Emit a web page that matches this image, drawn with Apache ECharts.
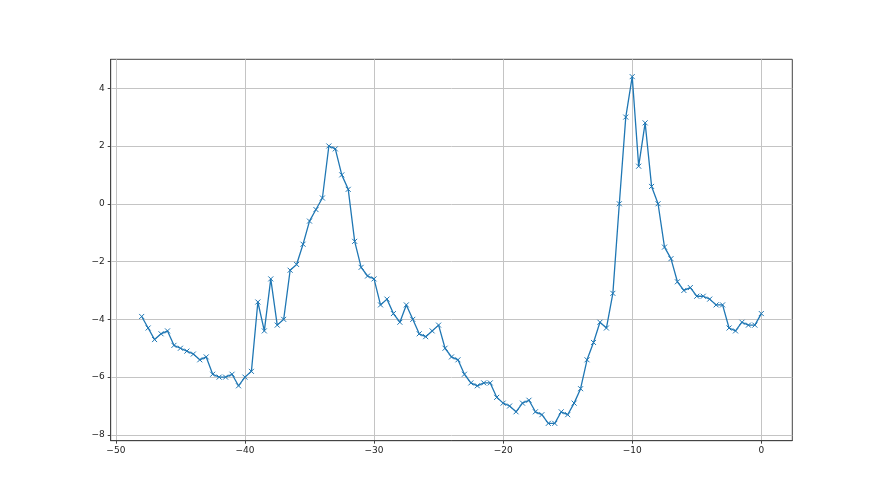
<!DOCTYPE html>
<html>
<head>
<meta charset="utf-8">
<script src="https://cdn.jsdelivr.net/npm/echarts@6/dist/echarts.min.js"></script>
<style>
html,body{margin:0;padding:0;background:#fff;}
#chart{width:880px;height:495px;}
</style>
</head>
<body>
<div id="chart"></div>
<script>
const xStart = -48;
const xStep = 0.5;
const yValues = [
  -3.9, -4.3, -4.7, -4.5, -4.4, -4.9, -5.0, -5.1, -5.2, -5.4,
  -5.3, -5.9, -6.0, -6.0, -5.9, -6.3, -6.0, -5.8, -3.4, -4.4,
  -2.6, -4.2, -4.0, -2.3, -2.1, -1.4, -0.6, -0.2, 0.2, 2.0,
  1.9, 1.0, 0.5, -1.3, -2.2, -2.5, -2.6, -3.5, -3.3, -3.8,
  -4.1, -3.5, -4.0, -4.5, -4.6, -4.4, -4.2, -5.0, -5.3, -5.4,
  -5.9, -6.2, -6.3, -6.2, -6.2, -6.7, -6.9, -7.0, -7.2, -6.9,
  -6.8, -7.2, -7.3, -7.6, -7.6, -7.2, -7.3, -6.9, -6.4, -5.4,
  -4.8, -4.1, -4.3, -3.1, 0.0, 3.0, 4.4, 1.3, 2.8, 0.6,
  0.0, -1.5, -1.9, -2.7, -3.0, -2.9, -3.2, -3.2, -3.3, -3.5,
  -3.5, -4.3, -4.4, -4.1, -4.2, -4.2, -3.8
];
const xTicks = [-50, -40, -30, -20, -10, 0];
const yTicks = [-8, -6, -4, -2, 0, 2, 4];

const points = yValues.map((v, i) => [xStart + i * xStep, v]);
const fmt = v => String(v).replace('-', '\u2212');

const chart = echarts.init(document.getElementById('chart'), null, {renderer: 'canvas'});
const gridColor = '#c4c4c4';
const frameColor = '#444';
const labelStyle = {color: '#222', fontSize: 9, fontFamily: 'DejaVu Sans'};

chart.setOption({
  animation: false,
  backgroundColor: '#fff',
  grid: {left: 110.7, right: 880 - 792.3, top: 59.3, bottom: 495 - 440.7, show: true, borderColor: frameColor, borderWidth: 1, backgroundColor: 'transparent'},
  xAxis: {
    type: 'value', min: -50.4, max: 2.4,
    axisLine: {show: true, onZero: false, lineStyle: {color: frameColor, width: 1}},
    axisTick: {show: true, length: 3, inside: false, customValues: xTicks, lineStyle: {color: frameColor}},
    axisLabel: {show: true, customValues: xTicks, margin: 5, formatter: fmt, ...labelStyle},
    splitLine: {show: true, lineStyle: {color: gridColor, width: 1}}
  },
  yAxis: {
    type: 'value', min: -8.2, max: 5.0,
    axisLine: {show: true, onZero: false, lineStyle: {color: frameColor, width: 1}},
    axisTick: {show: true, length: 3, inside: false, customValues: yTicks, lineStyle: {color: frameColor}},
    axisLabel: {show: true, customValues: yTicks, margin: 6, formatter: fmt, ...labelStyle},
    splitLine: {show: true, lineStyle: {color: gridColor, width: 1}}
  },
  series: [{
    type: 'line',
    data: points,
    lineStyle: {color: '#1f77b4', width: 1.3},
    symbol: 'path://M0,0L10,10M10,0L0,10',
    symbolSize: 5,
    showSymbol: true,
    showAllSymbol: true,
    itemStyle: {color: 'rgba(0,0,0,0)', borderColor: '#1f77b4', borderWidth: 1},
    emphasis: {disabled: true}
  }]
});
</script>
</body>
</html>
